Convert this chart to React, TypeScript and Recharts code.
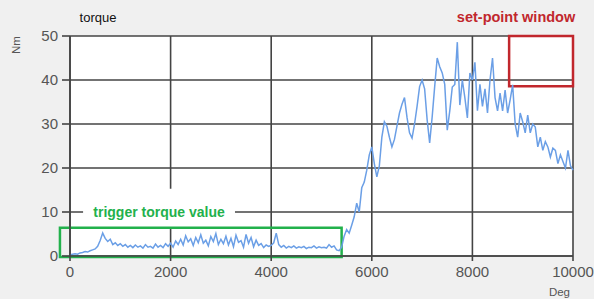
import React from 'react';
import { LineChart, Line, XAxis, YAxis, CartesianGrid, ReferenceArea } from 'recharts';

// Torque samples every 50 deg, from 0 to 10000 deg
const degStep = 50;
const torqueNm = [
  0.3, 0.4, 0.5, 0.4, 0.7, 0.8, 1.0, 0.9, 1.2, 1.4,
  1.6, 2.2, 3.5, 5.2, 4.0, 3.3, 3.8, 2.6, 3.0, 2.4,
  2.8, 2.2, 2.6, 2.0, 2.4, 1.9, 2.5, 2.0, 2.3, 1.8,
  2.6, 2.0, 2.2, 1.8, 2.7, 2.0, 2.4, 1.9, 2.8, 2.2,
  2.9, 2.0, 3.4, 2.6, 3.8, 2.5, 4.6, 3.2, 3.9, 2.4,
  4.2, 3.0, 4.8, 2.9, 3.6, 2.3, 4.4, 3.3, 5.1, 2.6,
  3.8, 2.8, 4.5, 2.5, 4.0, 2.1, 4.7, 3.1, 3.5, 2.0,
  4.9, 2.9, 4.2, 2.1, 3.6, 2.4, 2.8, 1.9, 2.5, 2.2,
  2.4, 3.0, 5.2, 2.6, 2.0, 2.4, 1.8, 2.2, 1.9, 2.3,
  1.8, 2.1, 1.9, 2.2, 1.7, 2.0, 1.9, 2.3, 1.8, 2.1,
  1.9, 2.0, 1.8, 2.6, 2.0, 2.3, 1.4, 1.2, 2.0, 4.5,
  6.0, 5.2, 7.0, 8.9, 12.0, 10.0, 15.5, 16.8, 19.5, 23.0,
  24.8, 21.0, 18.0, 20.5, 27.0, 30.5, 29.5, 27.0, 24.8, 26.5,
  29.5, 32.5, 34.5, 36.0, 31.5, 28.0, 26.8, 30.0, 34.0, 38.5,
  40.0, 38.0, 31.0, 25.7, 31.6, 38.5, 45.0, 43.0, 41.6, 39.0,
  28.6, 33.0, 38.4, 39.0, 48.6, 34.3, 40.0, 36.0, 31.4, 41.6,
  40.0, 44.0, 33.0, 39.0, 34.0, 38.0, 32.5, 40.0, 45.0, 36.0,
  33.0, 37.0, 33.0, 37.7, 32.5, 35.5, 38.9, 30.0, 27.0, 32.5,
  30.5, 28.0, 32.0, 28.0, 30.0, 29.3, 24.8, 27.0, 24.0, 26.0,
  24.8, 22.5, 24.5, 24.0, 21.0, 23.0, 21.5, 20.0, 24.0, 20.5,
  19.5,
];

const xTicks = [0, 2000, 4000, 6000, 8000, 10000];
const yTicks = [0, 10, 20, 30, 40, 50];

// annotation boxes (data units)
const triggerBox = { x1: -200, x2: 5400, y1: -0.2, y2: 6.4 };
const triggerLabelBg = { x1: 260, x2: 3280, y1: 6.6, y2: 15.3 };
const triggerLabelSpot = { x1: 260, x2: 3280, y1: 7, y2: 13 };
const setPointBox = { x1: 8730, x2: 10000, y1: 38.6, y2: 50 };

const data = torqueNm.map((t, i) => ({ deg: i * degStep, torque: t }));

const FONT = '"Liberation Sans", Arial, Helvetica, sans-serif';
const GRID = '#444';

const SetPointLabel = (props: any) => {
  const vb = props.viewBox || {};
  return (
    <text
      x={vb.x + vb.width / 2 - 25}
      y={vb.y - 14}
      textAnchor="middle"
      fill="#c1272d"
      fontWeight="bold"
      fontSize={14.5}
      fontFamily={FONT}
    >
      set-point window
    </text>
  );
};

export default function App() {
  return (
    <div style={{ position: 'absolute', left: 0, top: 0, width: 594, height: 299, background: '#f0f0f0' }}>
      <LineChart
        width={594}
        height={299}
        data={data}
        margin={{ top: 36, right: 21, bottom: 0, left: 0 }}
      >
        <CartesianGrid stroke={GRID} strokeWidth={1.6} fill="#ffffff" fillOpacity={1} />
        <XAxis
          dataKey="deg"
          type="number"
          domain={[0, 10000]}
          ticks={xTicks}
          interval={0}
          height={43}
          tickSize={5}
          tickMargin={5}
          tick={{ fill: '#555', fontSize: 15, fontFamily: FONT }}
          tickLine={{ stroke: GRID, strokeWidth: 1.6 }}
          axisLine={{ stroke: GRID, strokeWidth: 1.6 }}
          label={{ value: 'Deg', position: 'insideBottomRight', offset: 3, fill: '#555', fontSize: 11.5, fontFamily: FONT }}
        />
        <YAxis
          type="number"
          domain={[0, 50]}
          ticks={yTicks}
          interval={0}
          width={70}
          tickSize={8}
          tickMargin={4}
          tick={{ fill: '#555', fontSize: 15, fontFamily: FONT }}
          tickLine={{ stroke: GRID, strokeWidth: 1.6 }}
          axisLine={{ stroke: GRID, strokeWidth: 1.6 }}
        />
        <ReferenceArea
          {...triggerLabelBg}
          fill="#ffffff"
          fillOpacity={1}
          stroke="none"
          ifOverflow="visible"
        />
        <ReferenceArea
          {...triggerLabelSpot}
          fill="none"
          fillOpacity={0}
          stroke="none"
          ifOverflow="visible"
          label={{ value: 'trigger torque value', position: 'center', fill: '#22b14c', fontWeight: 'bold', fontSize: 14, fontFamily: FONT }}
        />
        <Line
          type="linear"
          dataKey="torque"
          stroke="#6b9fe6"
          strokeWidth={1.5}
          dot={false}
          isAnimationActive={false}
        />
        <ReferenceArea
          {...triggerBox}
          fill="none"
          fillOpacity={0}
          stroke="#22b14c"
          strokeWidth={2.5}
          ifOverflow="visible"
        />
        <ReferenceArea
          {...setPointBox}
          fill="none"
          fillOpacity={0}
          stroke="#c1272d"
          strokeWidth={2.5}
          ifOverflow="visible"
          label={<SetPointLabel />}
        />
        <text x={98} y={22} textAnchor="middle" fill="#111" fontSize={13} fontFamily={FONT}>torque</text>
        <text
          x={16}
          y={45}
          transform="rotate(-90 16 45)"
          textAnchor="middle"
          dominantBaseline="central"
          fill="#555"
          fontSize={11.5}
          fontFamily={FONT}
        >
          Nm
        </text>
      </LineChart>
    </div>
  );
}
